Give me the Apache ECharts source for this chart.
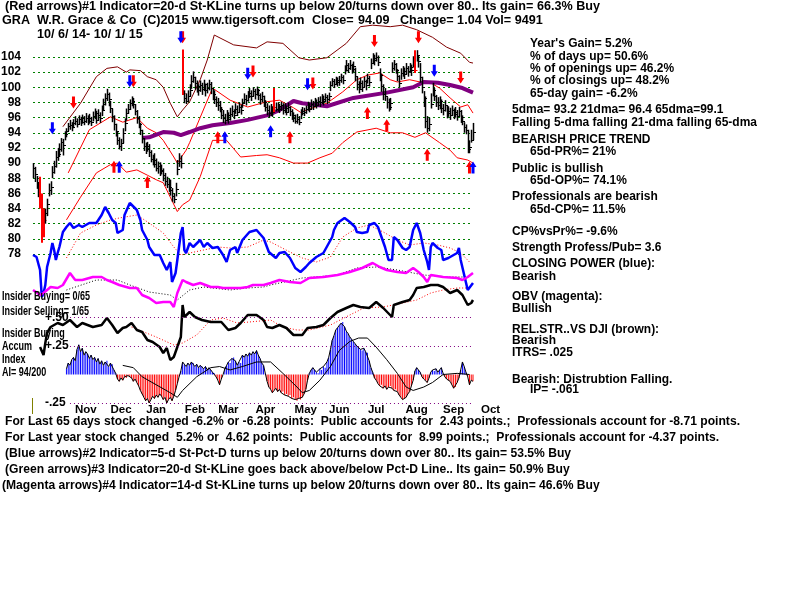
<!DOCTYPE html>
<html>
<head>
<meta charset="utf-8">
<title>GRA - W.R. Grace &amp; Co</title>
<style>
  html, body { margin: 0; padding: 0; background: #ffffff; }
  #chart { width: 800px; height: 600px; }
</style>
<script src="https://cdn.jsdelivr.net/npm/echarts@6.0.0/dist/echarts.min.js"></script>
</head>
<body>
<div id="chart"></div>
<script>
// ---------------- Daily price bars, 10/6/14 .. 10/1/15 (trading-day index 0..250) ----------------
const priceClose = [
  89.4,88.6,87.2,86.4,85.0,81.8,82.5,83.4,84.6,86.5,
  86.9,88.8,89.6,90.8,91.2,91.9,92.8,92.4,93.8,94.2,
  94.9,95.0,94.7,95.3,95.6,95.2,95.8,95.4,95.9,95.5,
  96.0,95.6,95.9,95.4,96.2,96.6,95.7,96.4,96.0,97.0,
  97.8,98.6,99.1,98.4,97.3,96.2,95.1,94.2,93.0,92.3,
  92.6,94.0,95.3,96.6,97.2,97.9,98.2,97.8,96.9,96.0,
  95.2,94.3,93.3,92.2,91.9,92.2,91.4,90.6,90.4,89.9,
  89.4,89.6,88.9,89.1,88.4,87.6,87.3,86.8,86.5,85.6,
  85.2,86.6,89.2,90.3,90.0,99.2,98.6,98.2,98.9,99.6,
  100.8,101.4,100.6,100.2,99.6,100.3,99.8,100.4,99.7,99.9,
  100.5,99.9,99.1,98.5,98.0,97.6,97.2,96.4,96.0,95.7,
  96.4,95.8,96.5,96.9,96.3,97.2,96.8,97.4,97.0,97.9,
  98.5,98.3,98.9,99.3,98.8,99.5,99.1,99.6,99.0,98.4,
  98.8,98.0,97.4,97.0,96.6,97.2,96.8,97.4,97.2,97.5,
  97.1,97.6,97.0,97.3,96.8,97.4,96.9,96.3,95.9,95.6,
  95.8,95.4,96.6,96.9,96.7,97.1,97.5,97.2,97.8,97.5,
  98.1,97.7,98.2,98.0,98.5,98.2,98.7,98.4,98.9,100.3,
  100.8,100.5,101.0,100.7,100.9,101.3,101.0,102.3,102.9,102.5,
  103.0,102.4,102.8,101.5,100.4,99.8,100.6,100.1,100.8,100.3,
  101.2,100.7,103.2,103.9,103.6,104.0,103.3,101.6,100.2,99.1,
  98.8,98.0,97.4,97.9,102.6,103.1,102.3,101.5,100.6,101.9,
  102.2,101.8,102.5,102.1,102.7,102.3,103.4,102.3,104.2,103.5,
  101.4,100.0,98.6,95.5,94.6,95.2,97.8,99.6,98.9,98.0,
  97.6,98.2,97.3,97.0,97.6,96.6,96.9,96.4,97.0,96.5,
  96.8,96.2,96.9,96.1,95.6,94.7,94.3,91.8,92.1,93.05,
  94.09
];
const priceHigh = [
  90.0,89.5,88.3,87.5,88.2,86.0,84.0,84.0,85.3,87.3,
  87.6,89.6,90.3,91.6,92.0,92.6,93.3,93.2,94.2,94.6,
  95.3,95.7,95.4,95.8,96.2,95.9,96.3,96.1,96.4,96.2,
  96.6,96.3,96.5,96.1,96.8,97.2,96.9,97.1,96.7,97.6,
  98.5,99.2,99.8,99.3,98.2,97.2,96.3,95.2,94.1,93.4,
  93.2,94.6,95.9,97.2,97.8,98.4,98.8,98.6,97.8,97.0,
  96.2,95.3,94.4,93.3,92.7,92.8,92.5,91.7,91.1,91.3,
  90.6,90.2,90.1,89.8,89.3,88.7,88.2,87.9,87.8,86.7,
  86.0,87.4,90.4,91.3,91.0,105.0,99.6,99.2,99.6,100.4,
  101.6,102.1,101.4,100.9,100.4,100.9,100.6,101.0,100.5,100.6,
  101.0,100.7,99.8,99.6,98.8,98.6,98.2,97.4,97.0,96.5,
  97.0,96.7,97.3,97.6,97.1,97.9,97.6,98.0,97.7,98.5,
  99.2,99.0,99.5,99.9,99.6,100.0,99.8,100.1,99.8,99.2,
  99.4,98.9,98.3,97.9,97.6,97.8,97.5,99.9,98.0,98.0,
  97.8,98.1,97.9,97.9,97.6,98.0,97.5,97.1,96.7,96.4,
  96.5,96.2,97.1,97.4,97.3,97.6,98.1,97.9,98.4,98.2,
  98.6,98.4,98.7,98.8,99.1,98.9,99.2,99.0,99.3,100.8,
  101.2,101.1,101.4,101.3,101.5,101.8,101.6,102.9,103.6,103.2,
  103.6,103.1,103.4,102.6,101.4,100.8,101.3,100.9,101.4,101.0,
  101.8,101.5,103.8,104.5,104.3,104.6,104.2,102.5,101.8,100.4,
  99.9,98.7,98.5,98.6,103.3,103.6,103.2,102.4,101.6,102.5,
  102.8,102.6,103.2,102.8,103.2,103.0,104.1,104.9,104.9,104.2,
  103.2,101.4,99.5,98.8,96.2,96.0,99.2,100.6,99.9,99.0,
  98.7,98.8,98.4,97.8,98.3,97.6,97.5,97.3,97.6,97.2,
  97.4,97.0,97.4,97.0,96.3,95.4,95.1,94.4,93.0,94.4,
  95.3
];
const priceLow = [
  88.0,87.5,86.6,85.5,84.0,79.5,80.2,82.0,83.0,85.6,
  85.8,88.0,88.6,89.4,90.3,90.8,91.5,91.0,93.0,93.4,
  94.2,94.4,94.2,94.6,95.0,94.7,95.1,94.9,95.2,95.0,
  95.3,95.0,95.2,94.9,95.5,95.8,95.2,95.6,95.3,96.2,
  97.0,97.6,98.2,97.5,96.6,95.4,94.3,93.5,92.4,91.8,
  91.6,92.6,94.2,95.6,96.5,97.0,97.5,97.2,96.3,95.2,
  94.6,93.7,92.6,91.6,91.2,91.5,90.8,90.1,89.7,89.4,
  88.9,88.6,88.3,88.5,87.6,87.0,86.7,86.2,85.7,84.9,
  84.7,85.6,88.4,89.5,89.3,99.0,97.9,97.8,98.1,98.8,
  99.8,100.6,99.7,99.3,98.9,99.4,99.0,99.5,98.8,99.2,
  99.6,99.1,98.3,97.8,97.4,96.9,96.7,95.8,95.3,95.1,
  95.5,95.2,95.6,96.1,95.8,96.5,96.2,96.6,96.4,97.3,
  97.8,97.6,98.1,98.6,98.2,98.8,98.4,98.9,98.3,97.7,
  98.0,97.4,96.8,96.3,96.0,96.2,96.1,96.7,96.8,96.8,
  96.6,96.9,96.4,96.6,96.3,96.7,96.2,95.7,95.4,95.2,
  95.2,95.0,95.8,96.3,96.2,96.5,96.9,96.7,97.1,97.0,
  97.4,97.2,97.5,97.4,97.8,97.6,98.0,97.8,98.2,99.5,
  100.1,99.9,100.3,100.1,100.2,100.6,100.4,101.7,102.1,101.9,
  102.3,101.8,102.0,100.8,99.6,99.2,99.8,99.4,100.0,99.6,
  100.5,100.1,102.4,103.2,102.9,103.4,102.8,100.8,99.4,98.3,
  98.2,97.2,96.8,97.0,101.9,102.2,101.8,100.8,100.0,101.0,
  101.4,101.1,101.7,101.4,101.9,101.5,102.6,101.9,103.4,102.6,
  100.6,99.2,97.4,94.6,94.0,94.2,97.2,98.8,98.2,97.4,
  97.0,97.1,96.6,96.3,96.8,95.9,96.1,95.7,96.2,95.8,
  96.0,95.6,96.1,95.3,95.0,94.0,93.8,91.3,91.3,92.7,
  93.0
];
// Days whose bar is drawn in red (wide-range days)
const redBarDays = [4, 5, 6, 85, 137, 217];

// ---------------- Price bands and moving average: [dayIndex, price] ----------------
const upperBand = [[17,94.8],[27,97.9],[36,101.4],[42,102.5],[48,102.7],[53,102.0],[55,102.3],[61,102.2],
  [65,101.4],[70,101.0],[74,100.0],[78,97.9],[82,96.1],[85,97.0],[89,98.1],[95,101.0],[99,103.6],[103,106.9],
  [114,105.6],[127,105.2],[133,106.0],[142,105.8],[151,103.9],[157,103.6],[167,103.9],[178,105.8],[186,108.0],
  [193,108.2],[203,108.0],[210,108.2],[218,107.6],[227,106.6],[235,105.3],[243,104.5],[248,103.3],[250,103.2]];
const midBand = [[20,88.7],[32,94.4],[44,96.1],[51,95.4],[59,96.0],[65,94.6],[70,94.0],[74,93.0],[80,90.8],
  [82,90.0],[87,91.7],[89,92.7],[102,99.9],[112,98.3],[122,97.4],[133,98.1],[140,98.3],[148,97.3],[152,96.7],
  [159,97.3],[167,97.9],[176,99.4],[184,101.0],[190,101.6],[197,101.9],[203,101.0],[207,100.7],[214,101.0],
  [220,100.7],[226,100.6],[231,99.9],[237,98.6],[243,97.4],[247,97.7],[250,96.6]];
const lowerBand = [[19,82.5],[27,85.5],[36,88.7],[44,89.8],[48,90.0],[53,88.8],[59,89.1],[65,88.4],[70,87.8],
  [74,87.4],[78,85.5],[82,83.6],[85,84.5],[89,85.1],[95,88.2],[102,93.0],[110,93.0],[118,90.8],[127,91.0],
  [133,91.1],[140,90.7],[148,90.0],[156,90.0],[163,90.7],[170,91.3],[176,92.7],[184,94.1],[195,94.6],[203,94.0],
  [210,94.0],[217,93.4],[223,94.0],[231,92.7],[237,91.7],[241,90.7],[247,90.4],[250,90.0]];
const dma65 = [[62,93.3],[66,93.4],[74,94.1],[80,94.0],[84,93.7],[89,94.1],[95,94.6],[102,95.0],[112,95.3],
  [122,95.7],[133,96.3],[140,97.0],[148,98.2],[153,97.9],[167,97.5],[182,98.6],[201,99.3],[216,100.0],
  [222,100.7],[230,100.6],[237,100.3],[244,99.9],[250,99.3]];

// ---------------- Signal arrows: [dayIndex, price level] ----------------
const redDownArrows  = [[23,98.0],[57,100.8],[85,106.6],[125,102.1],[159,100.5],[194,106.1],[219,106.6],[243,101.3]];
const blueDownArrows = [[11,94.6],[55,100.8],[84,106.6],[122,101.8],[156,100.4],[228,102.2]];
const redUpArrows    = [[46,89.5],[65,87.5],[105,93.4],[146,93.4],[190,96.6],[201,95.0],[224,91.1],[248,89.4]];
const blueUpArrows   = [[49,89.5],[109,93.4],[135,94.2],[250,89.4]];

// ---------------- Closing Power (blue) and its average (index units) ----------------
const closingPower = [[0,45],[2,43],[4,30],[5,3],[6,7],[7,15],[8,33],[10,47],[11,57],[12,50],[13,40],[14,47],
  [15,53],[17,68],[19,73],[21,77],[23,72],[26,75],[28,73],[32,77],[36,77],[39,85],[41,93],[43,87],[45,80],
  [47,77],[48,67],[51,70],[52,85],[55,97],[59,90],[61,80],[62,70],[65,60],[66,53],[69,45],[72,45],[74,37],
  [76,30],[78,38],[79,18],[81,27],[82,40],[84,67],[85,73],[86,50],[87,47],[89,57],[91,53],[95,60],[97,53],
  [99,57],[102,52],[105,53],[108,45],[110,38],[112,50],[115,53],[116,47],[119,60],[123,68],[127,70],[131,62],
  [134,48],[135,48],[138,42],[140,47],[143,48],[146,42],[149,32],[152,28],[155,33],[157,37],[161,43],[165,47],
  [170,63],[171,70],[173,77],[177,82],[180,78],[183,73],[184,68],[187,67],[190,68],[191,75],[194,77],[196,73],
  [198,63],[200,53],[202,40],[204,40],[205,63],[207,60],[210,52],[212,50],[214,53],[216,70],[218,77],[219,77],
  [220,67],[222,50],[224,38],[225,30],[226,53],[227,57],[230,52],[232,50],[233,40],[236,42],[239,45],[241,47],
  [242,52],[243,40],[244,38],[247,10],[248,12],[250,17]];
const closingPowerMA = [[19,42],[27,67],[36,75],[44,80],[49,82],[59,85],[66,77],[74,67],[80,53],[84,45],[89,47],
  [97,50],[105,53],[112,52],[122,53],[131,60],[135,58],[146,48],[153,42],[161,38],[169,43],[176,63],[184,72],
  [191,75],[199,68],[207,60],[214,55],[222,57],[230,55],[237,52],[243,47],[248,38]];

// ---------------- On-Balance Volume (magenta) and its average ----------------
const obv = [[0,20],[4,15],[6,17],[10,23],[14,22],[17,25],[21,37],[24,30],[28,30],[34,33],[39,33],[42,30],
  [45,28],[49,25],[55,22],[59,22],[62,15],[66,12],[70,7],[74,8],[78,8],[80,3],[82,17],[85,30],[87,28],[91,25],
  [95,27],[101,23],[105,23],[108,22],[114,22],[118,22],[122,23],[125,25],[131,25],[135,27],[140,30],[146,28],
  [152,27],[157,32],[165,33],[173,35],[180,38],[187,42],[193,47],[197,43],[201,40],[207,38],[212,37],[216,42],
  [219,38],[222,33],[224,28],[226,35],[233,33],[241,32],[244,30],[247,33],[250,37]];
const obvMA = [[19,20],[36,30],[48,30],[55,25],[66,18],[78,15],[82,10],[89,20],[97,23],[112,20],[122,22],
  [131,23],[135,25],[153,32],[173,35],[184,42],[195,43],[207,40],[222,35],[237,33],[248,33]];

// ---------------- Relative strength (black) and its average ----------------
const relStrength = [[4,23],[6,15],[7,27],[8,37],[10,43],[11,42],[14,47],[17,45],[21,50],[25,43],[28,47],
  [34,43],[39,45],[42,52],[45,45],[48,37],[51,42],[53,43],[56,47],[59,40],[62,38],[65,30],[68,28],[72,23],
  [74,17],[76,22],[78,10],[80,13],[82,23],[84,33],[85,65],[86,53],[89,58],[92,53],[96,50],[101,48],[107,48],
  [111,40],[115,42],[118,47],[122,55],[127,55],[131,50],[133,43],[136,42],[140,45],[144,42],[148,35],[153,35],
  [156,42],[161,43],[165,45],[169,52],[173,58],[178,62],[182,65],[186,63],[191,62],[195,68],[199,62],[204,53],
  [205,65],[210,68],[214,70],[216,75],[218,82],[222,83],[226,85],[230,85],[233,83],[237,77],[241,80],[244,75],
  [247,65],[249,67],[250,70]];
const relStrengthMA = [[56,43],[70,33],[80,25],[85,27],[93,35],[101,50],[108,52],[116,47],[123,48],[135,50],
  [142,43],[150,40],[157,40],[169,45],[180,55],[188,62],[199,63],[210,67],[218,70],[226,77],[233,80],[241,82],
  [248,82]];

// ---------------- Accumulation Index (AI), daily from day 19 ----------------
const aiStartDay = 19;
const aiValues = [
  .05,.10,.08,.13,.15,.12,.22,.26,.20,.23,        // 19-28
  .17,.20,.18,.14,.17,.13,.15,.11,.14,.09,        // 29-38
  .12,.08,.11,.12,.07,.10,.09,.04,.01,-.04,       // 39-48
  -.06,-.03,-.05,-.02,-.03,-.01,-.02,-.03,-.06,-.04, // 49-58
  -.07,-.10,-.14,-.17,-.20,-.23,-.21,-.25,-.22,-.19, // 59-68
  -.21,-.18,-.20,-.17,-.19,-.22,-.20,-.25,-.22,-.20, // 69-78
  -.23,-.19,-.14,-.08,-.02,.03,.11,.09,.07,.10,   // 79-88
  .08,.11,.10,.07,.09,.06,.08,.07,.05,.07,        // 89-98
  .04,.06,.04,.02,.01,-.02,-.05,-.09,-.04,.00,    // 99-108
  .05,.08,.11,.10,.14,.15,.12,.08,.11,.10,        // 109-118
  .17,.15,.18,.16,.19,.17,.20,.18,.21,.17,        // 119-128
  .14,.10,.08,.01,-.06,-.11,-.13,-.16,-.14,-.12,  // 129-138
  -.15,-.13,-.16,-.15,-.18,-.17,-.19,-.18,-.21,-.20, // 139-148
  -.22,-.23,-.21,-.22,-.20,-.17,-.13,-.05,.01,.04, // 149-158
  .06,.04,.02,.01,.05,.04,.07,.06,.11,.15,        // 159-168
  .22,.30,.34,.39,.41,.43,.45,.46,.42,.38,        // 169-178
  .36,.33,.31,.29,.27,.25,.24,.22,.21,.23,        // 179-188
  .20,.19,.12,.06,.02,-.03,-.05,-.08,-.10,-.09,   // 189-198
  -.12,-.10,-.13,-.11,-.10,-.12,-.14,-.13,-.15,-.18, // 199-208
  -.20,-.22,-.21,-.20,-.17,-.15,-.10,-.05,.03,.06, // 209-218
  .04,.02,-.02,-.04,-.05,-.07,-.03,.02,.04,.03,   // 219-228
  .05,.02,.04,.06,.01,-.02,-.04,-.05,-.06,-.09,   // 229-238
  -.12,-.11,-.07,-.03,.04,.11,.07,.02,-.02,-.09,  // 239-248
  -.05,-.06                                       // 249-250
];
const aiMA = [[51,.08],[57,.06],[62,-.02],[70,-.09],[78,-.16],[82,-.20],[85,-.14],[93,-.02],[101,.06],
  [106,.07],[112,.04],[119,.07],[127,.11],[135,.11],[142,.01],[150,-.11],[153,-.16],[157,-.14],[163,-.05],
  [169,.07],[174,.21],[180,.29],[185,.32],[190,.32],[195,.24],[201,.13],[207,.01],[212,-.11],[216,-.14],
  [222,-.11],[227,-.07],[233,.00],[241,.01],[248,.00]];
const aiLevels = [0.5, 0.25, -0.25];
const insiderLevel = 0.355;

// ---------------- Axis tick labels ----------------
const priceTicks = { min: 78, max: 104, step: 2 };
const monthNames = ['Nov','Dec','Jan','Feb','Mar','Apr','May','Jun','Jul','Aug','Sep','Oct'];
const monthLabelDay = [30, 50, 70, 92, 111, 132, 155, 174, 195, 218, 239, 260];

// ---------------- Text blocks ----------------
const headerTexts = [
  ['(Red arrows)#1 Indicator=20-d St-KLine turns up below 20/turns down over 80.. Its gain= 66.3% Buy', 5, 7],
  ['GRA', 2, 21], ['W.R. Grace & Co', 37, 21], ['(C)2015 www.tigersoft.com', 143, 21],
  ['Close=', 312, 21], ['94.09', 358, 21], ['Change= 1.04 Vol= 9491', 400, 21],
  ['10/ 6/ 14- 10/ 1/ 15', 37, 35]
];
const sideTexts = [
  ["Year's Gain= 5.2%", 530, 44], ['% of days up= 50.6%', 530, 57], ['% of openings up= 46.2%', 530, 69],
  ['% of closings up= 48.2%', 530, 81], ['65-day gain= -6.2%', 530, 94],
  ['5dma= 93.2 21dma= 96.4 65dma=99.1', 512, 110], ['Falling 5-dma falling 21-dma falling 65-dma', 512, 123],
  ['BEARISH PRICE TREND', 512, 140], ['65d-PR%= 21%', 530, 152],
  ['Public is bullish', 512, 169], ['65d-OP%= 74.1%', 530, 181],
  ['Professionals are bearish', 512, 197], ['65d-CP%= 11.5%', 530, 210],
  ['CP%vsPr%= -9.6%', 512, 232], ['Strength Profess/Pub= 3.6', 512, 248],
  ['CLOSING POWER (blue):', 512, 264], ['Bearish', 512, 277],
  ['OBV (magenta):', 512, 297], ['Bullish', 512, 309],
  ['REL.STR..VS DJI (brown):', 512, 330], ['Bearish', 512, 341], ['ITRS= .025', 512, 353],
  ['Bearish: Distrubtion Falling.', 512, 380], ['IP= -.061', 530, 390]
];
const leftTexts = [
  ['Insider Buying= 0/65', 2, 297], ['Insider Selling= 1/65', 2, 312], ['Insider Buying', 2, 334],
  ['Accum', 2, 347], ['Index', 2, 360], ['AI= 94/200', 2, 373]
];
const footerTexts = [
  ['For Last 65 days stock changed -6.2% or -6.28 points:  Public accounts for  2.43 points.;  Professionals account for -8.71 points.', 5, 422],
  ['For Last year stock changed  5.2% or  4.62 points:  Public accounts for  8.99 points.;  Professionals account for -4.37 points.', 5, 438],
  ['(Blue arrows)#2 Indicator=5-d St-Pct-D turns up below 20/turns down over 80.. Its gain= 53.5% Buy', 5, 454],
  ['(Green arrows)#3 Indicator=20-d St-KLine goes back above/below Pct-D Line.. Its gain= 50.9% Buy', 5, 470],
  ['(Magenta arrows)#4 Indicator=14-d St-KLine turns up below 20/turns down over 80.. Its gain= 46.6% Buy', 2, 486]
];

// ================= Drawing =================
const FONT_FAMILY = '"Liberation Sans", Arial, Helvetica, sans-serif';
const FONT = 'bold 12px ' + FONT_FAMILY;
const measureCtx = document.createElement('canvas').getContext('2d');
function textWidth(s) { measureCtx.font = FONT; return measureCtx.measureText(s).width; }

// Horizontal squeeze per text block so each block keeps its printed width
const headerScale = 595 / textWidth(headerTexts[0][0]);
const sideScale = 245 / textWidth('Falling 5-dma falling 21-dma falling 65-dma');
const leftScale = 87 / textWidth('Insider Selling= 1/65');
const footerScale = 735 / textWidth(footerTexts[0][0]);

function textEls(list, scale) {
  return list.map(([s, x, y]) => ({
    type: 'text', x: x, y: y, scaleX: scale, z: 100,
    style: { text: s, font: FONT, fill: '#000', textAlign: 'left', textVerticalAlign: 'middle', verticalAlign: 'middle' }
  }));
}

const PLOT_LEFT = 33, PLOT_WIDTH = 440, LAST_DAY = 250;
const DAY_PITCH = PLOT_WIDTH / LAST_DAY;

const monthCats = [];
for (let d = 0; d <= 260; d++) {
  const k = monthLabelDay.indexOf(d);
  monthCats.push(k >= 0 ? monthNames[k] : '');
}

const ARROW_DOWN = 'path://M2,0 L5,0 L5,6 L7,6 L3.5,11 L0,6 L2,6 Z';
const ARROW_UP = 'path://M3.5,0 L7,5 L5,5 L5,11 L2,11 L2,5 L0,5 Z';

function hiddenX(gi) {
  return { type: 'value', gridIndex: gi, min: 0, max: LAST_DAY, show: false };
}
function hiddenY(gi, min, max) {
  return { type: 'value', gridIndex: gi, min: min, max: max, show: false, splitLine: { show: false } };
}
function line(gi, data, color, width, dash, z) {
  return {
    type: 'line', xAxisIndex: gi, yAxisIndex: gi, data: data, symbol: 'none', clip: false,
    silent: true, animation: false, z: z || 3,
    lineStyle: { color: color, width: width, type: dash ? [1, 2] : 'solid' }
  };
}
function arrows(data, color, symbol) {
  return {
    type: 'scatter', xAxisIndex: 0, yAxisIndex: 0, data: data, symbol: symbol, symbolSize: [7, 12],
    clip: false, silent: true, animation: false, z: 6, itemStyle: { color: color, opacity: 1 }
  };
}

const barData = priceClose.map((c, i) => [i, priceLow[i], priceHigh[i], c]);
const aiData = aiValues.map((v, k) => [aiStartDay + k, v]);

const option = {
  animation: false,
  backgroundColor: '#ffffff',
  grid: [
    { left: PLOT_LEFT, top: 57, width: PLOT_WIDTH, height: 197, outerBoundsMode: 'none' },    // price
    { left: PLOT_LEFT, top: 200, width: PLOT_WIDTH, height: 100, outerBoundsMode: 'none' },   // closing power
    { left: PLOT_LEFT, top: 260, width: PLOT_WIDTH, height: 50, outerBoundsMode: 'none' },    // OBV
    { left: PLOT_LEFT, top: 290, width: PLOT_WIDTH, height: 80, outerBoundsMode: 'none' },    // relative strength
    { left: PLOT_LEFT, top: 317.5, width: PLOT_WIDTH, height: 85.5, outerBoundsMode: 'none' },// accumulation index
    { left: PLOT_LEFT, top: 398, width: DAY_PITCH * 260, height: 1, outerBoundsMode: 'none' } // month labels
  ],
  xAxis: [
    hiddenX(0), hiddenX(1), hiddenX(2), hiddenX(3), hiddenX(4),
    {
      type: 'category', gridIndex: 5, data: monthCats, boundaryGap: false,
      axisLine: { show: false }, axisTick: { show: false }, splitLine: { show: false },
      axisLabel: { interval: 0, hideOverlap: false, margin: 5, color: '#000', fontSize: 11.5,
        fontWeight: 'bold', fontFamily: FONT_FAMILY }
    }
  ],
  yAxis: [
    {
      type: 'value', gridIndex: 0, min: priceTicks.min, max: priceTicks.max, interval: priceTicks.step,
      axisLine: { show: false }, axisTick: { show: false },
      axisLabel: { color: '#000', fontSize: 12, fontWeight: 'bold', fontFamily: FONT_FAMILY, margin: 12 },
      splitLine: { show: true, lineStyle: { color: '#008000', width: 1, type: [2, 3] } }
    },
    hiddenY(1, 0, 100), hiddenY(2, 0, 50), hiddenY(3, 0, 80),
    {
      type: 'value', gridIndex: 4, min: -0.25, max: 0.5, interval: 0.25,
      axisLine: { show: false }, axisTick: { show: false }, splitLine: { show: false },
      axisLabel: {
        inside: true, margin: 12, color: '#000', fontSize: 12, fontWeight: 'bold', fontFamily: FONT_FAMILY,
        formatter: v => Math.abs(v) < 1e-9 ? '' :
          (v > 0 ? '+' : '-') + '.' + String(Math.round(Math.abs(v) * 100)).padStart(2, '0')
      }
    },
    hiddenY(5, 0, 1)
  ],
  series: [
    // price bands and 65-dma
    line(0, upperBand, '#800000', 1, false, 2),
    line(0, midBand, '#ff0000', 1, false, 2),
    line(0, lowerBand, '#ff0000', 1, false, 2),
    line(0, dma65, '#800080', 4, false, 3),
    // daily high-low bars with close tick
    {
      type: 'custom', xAxisIndex: 0, yAxisIndex: 0, data: barData, clip: false, silent: true, z: 4,
      animation: false,
      renderItem: function (params, api) {
        const i = api.value(0);
        const pLo = api.coord([i, api.value(1)]);
        const pHi = api.coord([i, api.value(2)]);
        const pCl = api.coord([i, api.value(3)]);
        const isRed = redBarDays.indexOf(i) >= 0;
        const col = isRed ? '#ff0000' : '#000000';
        const x = isRed ? Math.round(pLo[0]) : Math.round(pLo[0]) + 0.5;
        const yc = Math.round(pCl[1]) + 0.5;
        return {
          type: 'group', children: [
            { type: 'line', shape: { x1: x, y1: pHi[1], x2: x, y2: pLo[1] },
              style: { stroke: col, lineWidth: isRed ? 2 : 1.5 } },
            { type: 'line', shape: { x1: x, y1: yc, x2: x + 2.5, y2: yc }, style: { stroke: col, lineWidth: 1 } }
          ]
        };
      }
    },
    arrows(redDownArrows, '#ff0000', ARROW_DOWN),
    arrows(blueDownArrows, '#0000ff', ARROW_DOWN),
    arrows(redUpArrows, '#ff0000', ARROW_UP),
    arrows(blueUpArrows, '#0000ff', ARROW_UP),
    // closing power
    line(1, closingPowerMA, '#ff0000', 1, true, 3),
    line(1, closingPower, '#0000ff', 2.5, false, 4),
    // OBV
    line(2, obvMA, '#000000', 1, true, 3),
    line(2, obv, '#ff00ff', 2.5, false, 4),
    // relative strength
    line(3, relStrengthMA, '#ff0000', 1, true, 3),
    line(3, relStrength, '#000000', 2.5, false, 4),
    // accumulation index histogram
    {
      type: 'bar', xAxisIndex: 4, yAxisIndex: 4, data: aiData, barWidth: 1, silent: true, animation: false, z: 2,
      itemStyle: { color: p => p.value[1] >= 0 ? '#0000ff' : '#ff0000' },
      markLine: {
        silent: true, symbol: 'none', label: { show: false }, animation: false,
        lineStyle: { color: '#800080', width: 1, type: [1, 3] },
        data: aiLevels.map(v => [{ coord: [21, v] }, { coord: [LAST_DAY, v] }]).concat([
          [{ coord: [1, insiderLevel], lineStyle: { type: 'solid', color: '#800080', width: 1 } },
           { coord: [257, insiderLevel], lineStyle: { type: 'solid', color: '#800080', width: 1 } }]
        ])
      }
    },
    line(4, aiData, '#000000', 1, false, 3),
    line(4, aiMA, '#000000', 1, false, 3)
  ],
  graphic: [].concat(
    textEls(headerTexts, headerScale),
    textEls(sideTexts, sideScale),
    textEls(leftTexts, leftScale),
    textEls(footerTexts, footerScale),
    [{ type: 'line', z: 100, shape: { x1: 32.5, y1: 398, x2: 32.5, y2: 414 }, style: { stroke: '#808000', lineWidth: 1 } }]
  )
};

const chart = echarts.init(document.getElementById('chart'), null, { renderer: 'canvas' });
chart.setOption(option);
</script>
</body>
</html>
